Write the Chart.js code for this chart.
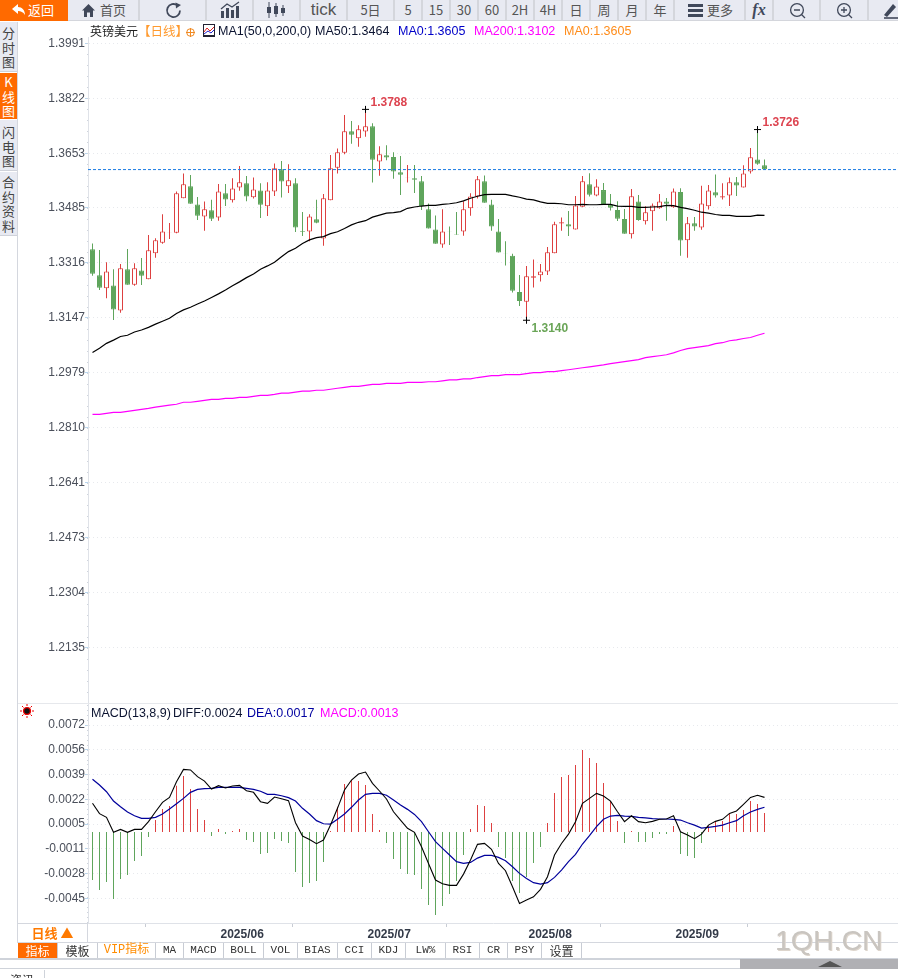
<!DOCTYPE html>
<html>
<head>
<meta charset="utf-8">
<title>英镑美元 日线</title>
<script src="https://cdn.jsdelivr.net/npm/chart.js@4"></script>
<style>
html, body { margin: 0; padding: 0; background: #fff; overflow: hidden; }
#page { position: relative; width: 898px; height: 978px; overflow: hidden; font-family: "Liberation Sans", "Noto Sans CJK SC", sans-serif; color: #333; }
#page div, #page span { position: absolute; white-space: nowrap; }
canvas { position: absolute; display: block; }
.tool { top: 0; height: 21px; line-height: 20px; background: #e8eaf2; border-right: 2px solid #d4d6dc; text-align: center; font-size: 13px; color: #555; font-family: "Noto Sans CJK SC", sans-serif; box-sizing: border-box; border-bottom: 1px solid #d4d6dc; }
.tool svg { position: absolute; }
.side { left: 0; width: 17px; background: #e8eaf2; text-align: center; font-size: 13px; line-height: 14.5px; color: #444; font-family: "Noto Sans CJK SC", sans-serif; border-bottom: 1px solid #cfd2da; box-sizing: border-box; }
.legend { font-size: 12.5px; line-height: 16px; top: 23px; }
.legend2 { font-size: 12.5px; line-height: 16px; top: 705px; }
.tab { top: 943px; height: 15px; line-height: 15px; font-size: 11px; font-family: "Liberation Mono", monospace; text-align: center; border-right: 1px solid #c8ccd4; box-sizing: content-box; color: #333; }
</style>
</head>
<body>
<div id="page">
  <canvas id="price-chart" width="880" height="666" style="left:18px;top:37px"></canvas>
  <canvas id="macd-chart" width="880" height="240" style="left:18px;top:703px"></canvas>

  <div class="tool" style="left:0;width:68px;background:#ff6a00;color:#fff;border:0">
    <svg style="left:11px;top:3px" width="16" height="14" viewBox="0 0 16 14"><path d="M7 1 L1 6 L7 11 V8 C10 8 12 9 14 12 C14 7 11 4 7 4 Z" fill="#fff"/></svg>
    <span style="left:28px;top:0">返回</span>
  </div>
  <div class="tool" style="left:68px;width:72px">
    <svg style="left:14px;top:4px" width="13" height="13" viewBox="0 0 13 13"><path d="M6.5 0 L13 6.5 H11 V13 H8 V8.5 H5 V13 H2 V6.5 H0 Z" fill="#40485a"/></svg>
    <span style="left:32px;top:0">首页</span>
  </div>
  <div class="tool" style="left:140px;width:67px">
    <svg style="left:25px;top:2px" width="18" height="17" viewBox="0 0 18 17"><path d="M15 8.5 A6.5 6.5 0 1 1 12.5 3.4" fill="none" stroke="#40485a" stroke-width="1.8"/><path d="M10.5 0.5 L16 3 L11 6.5 Z" fill="#40485a"/></svg>
  </div>
  <div class="tool" style="left:207px;width:47px">
    <svg style="left:13px;top:1px" width="20" height="18" viewBox="0 0 20 18"><path d="M1 17 V10 H4 V17 Z M6 17 V7 H9 V17 Z M11 17 V9 H14 V17 Z M16 17 V5 H19 V17 Z" fill="#40485a"/><path d="M1 8 L7 3 L12 6 L19 1" fill="none" stroke="#40485a" stroke-width="1.3"/></svg>
  </div>
  <div class="tool" style="left:254px;width:47px">
    <svg style="left:12px;top:2px" width="22" height="16" viewBox="0 0 22 16"><path d="M3 0 V16 M10 1 V15 M17 3 V14" stroke="#40485a" stroke-width="1"/><path d="M1 5 H5 V11 H1 Z M8 4 H12 V12 H8 Z M15 6 H19 V11 H15 Z" fill="#40485a"/></svg>
  </div>
  <div class="tool" style="left:301px;width:47px;font-size:17px;font-family:'Liberation Sans'">tick</div>
  <div class="tool" style="left:348px;width:47px">5日</div>
  <div class="tool" style="left:395px;width:28px">5</div>
  <div class="tool" style="left:423px;width:28px">15</div>
  <div class="tool" style="left:451px;width:28px">30</div>
  <div class="tool" style="left:479px;width:28px">60</div>
  <div class="tool" style="left:507px;width:28px">2H</div>
  <div class="tool" style="left:535px;width:28px">4H</div>
  <div class="tool" style="left:563px;width:28px">日</div>
  <div class="tool" style="left:591px;width:28px">周</div>
  <div class="tool" style="left:619px;width:28px">月</div>
  <div class="tool" style="left:647px;width:28px">年</div>
  <div class="tool" style="left:675px;width:71px">
    <svg style="left:13px;top:4px" width="15" height="13" viewBox="0 0 15 13"><path d="M0 0 H15 V3 H0 Z M0 5 H15 V8 H0 Z M0 10 H15 V13 H0 Z" fill="#40485a"/></svg>
    <span style="left:32px;top:0">更多</span>
  </div>
  <div class="tool" style="left:746px;width:28px;font:italic bold 16px 'Liberation Serif';color:#40485a;line-height:20px">fx</div>
  <div class="tool" style="left:774px;width:47px">
    <svg style="left:15px;top:2px" width="17" height="17" viewBox="0 0 17 17"><circle cx="8" cy="8" r="6.4" fill="none" stroke="#40485a" stroke-width="1.3"/><path d="M5 8 H11 M12.5 12.5 L16 16" stroke="#40485a" stroke-width="1.3"/></svg>
  </div>
  <div class="tool" style="left:821px;width:48px">
    <svg style="left:15px;top:2px" width="17" height="17" viewBox="0 0 17 17"><circle cx="8" cy="8" r="6.4" fill="none" stroke="#40485a" stroke-width="1.3"/><path d="M5 8 H11 M8 5 V11 M12.5 12.5 L16 16" stroke="#40485a" stroke-width="1.3"/></svg>
  </div>
  <div class="tool" style="left:869px;width:29px;border-right:0">
    <svg style="left:15px;top:2px" width="14" height="17" viewBox="0 0 14 17"><path d="M0 13 L9 2 L12 5 L3 15 Z" fill="#40485a"/><path d="M0 16 H14" stroke="#40485a" stroke-width="1.6"/></svg>
  </div>

  <div class="side" style="top:22px;height:50px;padding-top:4px">分<br>时<br>图</div>
  <div class="side" style="top:73px;height:46px;padding-top:2px;background:#ff6a00;color:#fff;border:0">K<br>线<br>图</div>
  <div class="side" style="top:120px;height:51px;padding-top:5px">闪<br>电<br>图</div>
  <div class="side" style="top:172px;height:64px;padding-top:3px">合<br>约<br>资<br>料</div>
  <div style="left:17px;top:22px;width:1px;height:921px;background:#d4d7de"></div>

  <span class="legend" style="left:90px;font-size:12px;font-family:'Noto Sans CJK SC';color:#222">英镑美元</span>
  <span class="legend" style="left:138px;font-family:'Noto Sans CJK SC';color:#ff9a2e">【日线】</span>
  <svg style="position:absolute;left:186px;top:28px" width="9" height="9" viewBox="0 0 9 9"><circle cx="4.5" cy="4.5" r="3.8" fill="none" stroke="#f08a24"/><path d="M0 4.5 H9 M4.5 0 V9" stroke="#f08a24"/></svg>
  <svg style="position:absolute;left:203px;top:24px" width="12" height="13" viewBox="0 0 12 13"><rect x="0.5" y="0.5" width="11" height="11" fill="#fff" stroke="#223"/><path d="M1 8 L4 4 L7 7 L11 3" stroke="#d22" fill="none"/><path d="M1 10 L5 7 L8 9 L11 6" stroke="#22c" fill="none"/><path d="M0 12.5 H12" stroke="#223"/></svg>
  <span class="legend" style="left:218px;color:#0b1330">MA1(50,0,200,0)</span>
  <span class="legend" style="left:315px;color:#0b1330">MA50:1.3464</span>
  <span class="legend" style="left:398px;color:#0000c8">MA0:1.3605</span>
  <span class="legend" style="left:474px;color:#ff00ff">MA200:1.3102</span>
  <span class="legend" style="left:564px;color:#ff8c1a">MA0:1.3605</span>

  <div style="left:18px;top:703px;width:880px;height:1px;background:#e6e8ec"></div>
  <svg style="position:absolute;left:20px;top:704px" width="14" height="14" viewBox="0 0 14 14"><circle cx="7" cy="7" r="3.4" fill="#111" stroke="#e00" stroke-width="1.4"/><path d="M7 0 V2 M7 12 V14 M0 7 H2 M12 7 H14 M2 2 L3.5 3.5 M12 2 L10.5 3.5 M2 12 L3.5 10.5 M12 12 L10.5 10.5" stroke="#e00"/></svg>
  <span class="legend2" style="left:91px;color:#0b1330">MACD(13,8,9)</span>
  <span class="legend2" style="left:173px;color:#0b1330">DIFF:0.0024</span>
  <span class="legend2" style="left:247px;color:#0000a0">DEA:0.0017</span>
  <span class="legend2" style="left:320px;color:#ff00ff">MACD:0.0013</span>

  <div style="left:18px;top:923px;width:70px;height:19px;border-top:1px solid #d4d7de;border-right:1px solid #d4d7de;text-align:center;font:bold 13px 'Noto Sans CJK SC';color:#ff7a00;line-height:18px;box-sizing:border-box">日线 ▲</div>
  <div style="left:18px;top:942px;width:880px;height:1px;background:#d4d7de"></div>

  <div class="tab" style="left:18px;width:39px;background:#ff6a00;color:#fff;font-family:'Noto Sans CJK SC';font-size:12px">指标</div>
  <div class="tab" style="left:58px;width:39px;font-family:'Noto Sans CJK SC';font-size:12px">模板</div>
  <div class="tab" style="left:98px;width:57px;color:#ff8c00;font-family:'Liberation Mono','Noto Sans CJK SC';font-size:12px">VIP指标</div>
  <div class="tab" style="left:156px;width:27px">MA</div>
  <div class="tab" style="left:184px;width:39px">MACD</div>
  <div class="tab" style="left:224px;width:39px">BOLL</div>
  <div class="tab" style="left:264px;width:33px">VOL</div>
  <div class="tab" style="left:298px;width:39px">BIAS</div>
  <div class="tab" style="left:338px;width:33px">CCI</div>
  <div class="tab" style="left:372px;width:33px">KDJ</div>
  <div class="tab" style="left:406px;width:39px">LW%</div>
  <div class="tab" style="left:446px;width:33px">RSI</div>
  <div class="tab" style="left:480px;width:27px">CR</div>
  <div class="tab" style="left:508px;width:33px">PSY</div>
  <div class="tab" style="left:542px;width:39px;font-family:'Noto Sans CJK SC';font-size:12px">设置</div>
  <div style="left:0;top:958px;width:898px;height:2px;background:#cfd3da"></div>
  <div style="left:740px;top:959px;width:158px;height:10px;background:#b0b0b4"></div>
  <svg style="position:absolute;left:818px;top:961px" width="24" height="8" viewBox="0 0 24 8"><path d="M12 0 L24 6 H0 Z" fill="#555"/></svg>
  <div style="left:0;top:968px;width:740px;height:1px;background:#cfd3da"></div>
  <div style="left:0;top:970px;width:44px;height:12px;border-right:1px solid #cfd3da;text-align:center;font:12px 'Noto Sans CJK SC';line-height:20px;color:#333">资讯</div>

  <div style="left:775px;top:922px;font-size:28.5px;line-height:36px;color:#c9c5c0;text-shadow:1px 1px 0 #ddd5cc">1QH.CN</div>
</div>

<script>
const dates = [
  '2025/05/07','2025/05/08','2025/05/09','2025/05/12','2025/05/13','2025/05/14','2025/05/15','2025/05/16','2025/05/19','2025/05/20',
  '2025/05/21','2025/05/22','2025/05/23','2025/05/26','2025/05/27','2025/05/28','2025/05/29','2025/05/30','2025/06/02','2025/06/03',
  '2025/06/04','2025/06/05','2025/06/06','2025/06/09','2025/06/10','2025/06/11','2025/06/12','2025/06/13','2025/06/16','2025/06/17',
  '2025/06/18','2025/06/19','2025/06/20','2025/06/23','2025/06/24','2025/06/25','2025/06/26','2025/06/27','2025/06/30','2025/07/01',
  '2025/07/02','2025/07/03','2025/07/04','2025/07/07','2025/07/08','2025/07/09','2025/07/10','2025/07/11','2025/07/14','2025/07/15',
  '2025/07/16','2025/07/17','2025/07/18','2025/07/21','2025/07/22','2025/07/23','2025/07/24','2025/07/25','2025/07/28','2025/07/29',
  '2025/07/30','2025/07/31','2025/08/01','2025/08/04','2025/08/05','2025/08/06','2025/08/07','2025/08/08','2025/08/11','2025/08/12',
  '2025/08/13','2025/08/14','2025/08/15','2025/08/18','2025/08/19','2025/08/20','2025/08/21','2025/08/22','2025/08/25','2025/08/26',
  '2025/08/27','2025/08/28','2025/08/29','2025/09/01','2025/09/02','2025/09/03','2025/09/04','2025/09/05','2025/09/08','2025/09/09',
  '2025/09/10','2025/09/11','2025/09/12','2025/09/15','2025/09/16','2025/09/17','2025/09/18'
];

const opens = [
  1.3358,1.3278,1.3238,1.3247,1.3170,1.3297,1.3249,1.3293,1.3266,1.3346,
  1.3378,1.3409,1.3409,1.3515,1.3552,1.3496,1.3459,1.3478,1.3456,1.3530,
  1.3509,1.3548,1.3561,1.3518,1.3539,1.3490,1.3536,1.3604,1.3552,1.3561,
  1.3414,1.3413,1.3450,1.3391,1.3509,1.3609,1.3655,1.3721,1.3699,1.3720,
  1.3736,1.3628,1.3647,1.3642,1.3595,1.3578,1.3576,1.3567,1.3481,1.3419,
  1.3373,1.3413,1.3404,1.3413,1.3484,1.3520,1.3567,1.3496,1.3413,1.3346,
  1.3338,1.3227,1.3197,1.3271,1.3278,1.3290,1.3346,1.3437,1.3435,1.3419,
  1.3489,1.3558,1.3523,1.3540,1.3495,1.3479,1.3451,1.3404,1.3505,1.3444,
  1.3475,1.3484,1.3505,1.3487,1.3534,1.3386,1.3438,1.3425,1.3490,1.3533,
  1.3517,1.3523,1.3564,1.3548,1.3597,1.3634,1.3616
];
const closes = [
  1.3283,1.3240,1.3290,1.3173,1.3300,1.3249,1.3300,1.3277,1.3355,1.3386,
  1.3413,1.3410,1.3530,1.3558,1.3498,1.3461,1.3481,1.3452,1.3536,1.3511,
  1.3545,1.3564,1.3520,1.3542,1.3495,1.3539,1.3607,1.3566,1.3570,1.3425,
  1.3412,1.3459,1.3440,1.3515,1.3607,1.3656,1.3721,1.3710,1.3727,1.3736,
  1.3633,1.3650,1.3640,1.3597,1.3587,1.3579,1.3572,1.3491,1.3422,1.3375,
  1.3413,1.3412,1.3403,1.3481,1.3520,1.3573,1.3501,1.3428,1.3348,1.3345,
  1.3231,1.3199,1.3275,1.3275,1.3290,1.3349,1.3435,1.3441,1.3428,1.3493,
  1.3567,1.3526,1.3551,1.3497,1.3486,1.3452,1.3406,1.3521,1.3448,1.3472,
  1.3493,1.3505,1.3498,1.3536,1.3385,1.3438,1.3428,1.3499,1.3539,1.3523,
  1.3521,1.3564,1.3554,1.3591,1.3641,1.3621,1.3604
];
const highs = [
  1.3376,1.3356,1.3318,1.3297,1.3313,1.3359,1.3315,1.3331,1.3402,1.3392,
  1.3466,1.3439,1.3536,1.3591,1.3586,1.3519,1.3505,1.3510,1.3559,1.3559,
  1.3576,1.3614,1.3583,1.3579,1.3561,1.3564,1.3622,1.3629,1.3619,1.3576,
  1.3473,1.3466,1.3510,1.3528,1.3648,1.3668,1.3771,1.3752,1.3739,1.3788,
  1.3745,1.3675,1.3678,1.3656,1.3645,1.3617,1.3617,1.3583,1.3499,1.3462,
  1.3481,1.3428,1.3473,1.3506,1.3530,1.3583,1.3585,1.3510,1.3451,1.3383,
  1.3344,1.3279,1.3307,1.3327,1.3313,1.3365,1.3443,1.3456,1.3476,1.3522,
  1.3583,1.3592,1.3573,1.3562,1.3528,1.3506,1.3482,1.3543,1.3525,1.3490,
  1.3499,1.3528,1.3516,1.3545,1.3546,1.3457,1.3457,1.3553,1.3556,1.3588,
  1.3561,1.3579,1.3580,1.3616,1.3669,1.3726,1.3634
];
const lows = [
  1.3277,1.3233,1.3208,1.3141,1.3163,1.3249,1.3246,1.3248,1.3266,1.3332,
  1.3375,1.3390,1.3407,1.3515,1.3498,1.3448,1.3415,1.3445,1.3446,1.3491,
  1.3502,1.3538,1.3506,1.3514,1.3454,1.3460,1.3522,1.3517,1.3531,1.3411,
  1.3399,1.3383,1.3438,1.3369,1.3509,1.3591,1.3650,1.3682,1.3673,1.3704,
  1.3563,1.3584,1.3632,1.3575,1.3525,1.3563,1.3531,1.3479,1.3422,1.3375,
  1.3363,1.3371,1.3403,1.3400,1.3461,1.3514,1.3501,1.3415,1.3348,1.3308,
  1.3225,1.3184,1.3140,1.3241,1.3259,1.3279,1.3346,1.3415,1.3399,1.3419,
  1.3487,1.3520,1.3521,1.3497,1.3477,1.3445,1.3406,1.3391,1.3446,1.3434,
  1.3415,1.3483,1.3446,1.3486,1.3338,1.3332,1.3415,1.3418,1.3480,1.3517,
  1.3511,1.3491,1.3522,1.3548,1.3591,1.3618,1.3604
];

const ma50 = [
  1.3041,1.3054,1.3069,1.3079,1.3090,1.3094,1.3104,1.3110,1.3118,1.3128,
  1.3137,1.3146,1.3161,1.3172,1.3180,1.3190,1.3199,1.3210,1.3221,1.3233,
  1.3246,1.3258,1.3271,1.3282,1.3297,1.3307,1.3318,1.3335,1.3351,1.3361,
  1.3376,1.3387,1.3394,1.3397,1.3406,1.3412,1.3422,1.3433,1.3441,1.3446,
  1.3457,1.3463,1.3469,1.3471,1.3474,1.3484,1.3488,1.3491,1.3493,1.3493,
  1.3496,1.3498,1.3501,1.3507,1.3515,1.3521,1.3526,1.3527,1.3527,1.3527,
  1.3522,1.3518,1.3512,1.3510,1.3504,1.3499,1.3499,1.3498,1.3495,1.3495,
  1.3496,1.3495,1.3495,1.3496,1.3496,1.3491,1.3490,1.3490,1.3487,1.3487,
  1.3488,1.3489,1.3493,1.3492,1.3487,1.3483,1.3478,1.3472,1.3469,1.3465,
  1.3462,1.3462,1.3459,1.3459,1.3459,1.3463,1.3462
];
const ma200 = [
  1.2851,1.2851,1.2854,1.2857,1.2857,1.2860,1.2863,1.2866,1.2869,1.2873,
  1.2876,1.2879,1.2882,1.2888,1.2888,1.2891,1.2894,1.2897,1.2897,1.2900,
  1.2900,1.2903,1.2903,1.2906,1.2909,1.2909,1.2912,1.2916,1.2916,1.2919,
  1.2922,1.2922,1.2925,1.2925,1.2928,1.2931,1.2934,1.2937,1.2937,1.2940,
  1.2943,1.2943,1.2946,1.2946,1.2946,1.2949,1.2949,1.2949,1.2951,1.2951,
  1.2954,1.2957,1.2957,1.2960,1.2960,1.2964,1.2967,1.2970,1.2970,1.2973,
  1.2973,1.2973,1.2976,1.2979,1.2979,1.2982,1.2982,1.2985,1.2988,1.2991,
  1.2994,1.2997,1.3000,1.3003,1.3007,1.3010,1.3013,1.3016,1.3019,1.3025,
  1.3028,1.3031,1.3034,1.3040,1.3047,1.3053,1.3056,1.3059,1.3062,1.3068,
  1.3071,1.3077,1.3080,1.3084,1.3087,1.3094,1.3100
];
const lastLevel = 1.3603;

const macdDiff = [
  .00194,.00124,.00099,-.00002,.00018,-.00002,.00018,.00018,.00070,.00137,
  .00200,.00234,.00340,.00423,.00419,.00374,.00344,.00290,.00313,.00297,
  .00311,.00315,.00279,.00268,.00205,.00194,.00236,.00225,.00212,.00063,
  -.00027,-.00050,-.00079,-.00054,.00047,.00160,.00284,.00351,.00392,.00405,
  .00329,.00277,.00223,.00137,.00081,.00025,-.00002,-.00099,-.00212,-.00324,
  -.00349,-.00360,-.00360,-.00284,-.00189,-.00083,-.00077,-.00117,-.00212,-.00261,
  -.00369,-.00482,-.00459,-.00437,-.00387,-.00302,-.00155,-.00077,-.00014,.00070,
  .00194,.00227,.00261,.00243,.00209,.00137,.00070,.00110,.00070,.00063,
  .00072,.00086,.00088,.00110,.00002,-.00020,-.00045,-.00014,.00047,.00072,
  .00086,.00126,.00142,.00187,.00234,.00248,.00234
];
const macdDea = [
  .00356,.00317,.00272,.00209,.00171,.00135,.00110,.00092,.00092,.00099,
  .00122,.00155,.00191,.00227,.00268,.00288,.00293,.00295,.00302,.00302,
  .00302,.00302,.00295,.00288,.00275,.00254,.00254,.00245,.00232,.00209,
  .00160,.00122,.00077,.00056,.00054,.00086,.00122,.00167,.00216,.00254,
  .00261,.00261,.00248,.00216,.00182,.00153,.00119,.00070,.00002,-.00065,
  -.00110,-.00155,-.00200,-.00212,-.00205,-.00176,-.00158,-.00158,-.00171,-.00194,
  -.00234,-.00279,-.00313,-.00342,-.00351,-.00342,-.00306,-.00257,-.00200,-.00151,
  -.00081,-.00025,.00036,.00086,.00108,.00113,.00108,.00106,.00099,.00095,
  .00090,.00088,.00088,.00086,.00081,.00063,.00047,.00027,.00032,.00038,
  .00047,.00063,.00077,.00110,.00135,.00153,.00167
];
const macdHist = [
  -.00324,-.00392,-.00338,-.00452,-.00317,-.00290,-.00196,-.00162,-.00034,.00081,
  .00155,.00176,.00313,.00378,.00290,.00155,.00081,-.00027,.00020,-.00014,
  .00007,.00020,-.00054,-.00068,-.00149,-.00142,-.00047,-.00061,-.00074,-.00270,
  -.00371,-.00344,-.00331,-.00203,.00007,.00171,.00324,.00351,.00344,.00317,
  .00122,.00014,-.00074,-.00182,-.00250,-.00284,-.00290,-.00385,-.00493,-.00560,
  -.00500,-.00419,-.00331,-.00155,.00020,.00182,.00176,.00061,-.00101,-.00176,
  -.00331,-.00412,-.00304,-.00209,-.00101,.00061,.00263,.00371,.00385,.00452,
  .00554,.00500,.00466,.00331,.00209,.00074,-.00074,.00007,-.00068,-.00068,
  -.00041,-.00014,-.00014,.00041,-.00149,-.00162,-.00176,-.00074,.00041,.00068,
  .00074,.00122,.00122,.00149,.00209,.00189,.00128
];

const priceTicks = [1.3991,1.3822,1.3653,1.3485,1.3316,1.3147,1.2979,1.2810,1.2641,1.2473,1.2304,1.2135];
const macdTicks = [.00722,.00556,.00387,.00220,.00054,-.00114,-.00281,-.00449];

// candles marked with a cross and their price
const markedCandles = [39, 95, 62];
const markedTexts = ['1.3788', '1.3726', '1.3140'];

const RED = '#dd4040';
const GREEN = '#5fa55c';
const SLOT = 7;
const AREA_WIDTH = 810;
const FIRST_OFFSET = 4.5;  // first candle centre, from the left of the plot
const xMin = -FIRST_OFFSET / SLOT;
const xMax = xMin + AREA_WIDTH / SLOT;

const isUp = i => closes[i] >= opens[i];

// first trading day of each month, the first month in the data has no label
const monthStarts = [];
dates.forEach((d, i) => {
    if (i > 0 && d.slice(0, 7) !== dates[i - 1].slice(0, 7)) monthStarts.push(i);
});

// the plot has to fill the canvas, without room kept for half of the labels
function noPadding(axis) {
    axis.paddingTop = 0;
    axis.paddingBottom = 0;
    axis.paddingLeft = 0;
    axis.paddingRight = 0;
}

const minorTicks = {
    id: 'minorTicks',
    afterDraw(chart) {
        const y = chart.scales.y;
        const ticks = y.ticks.map(t => t.value);
        const step = (ticks[0] - ticks[1]) / 5;
        const ctx = chart.ctx;
        ctx.save();
        ctx.fillStyle = '#cfd4dc';
        for (let v = ticks[0] + step * 5; v > y.min; v -= step) {
            if (v > y.max) continue;
            ctx.fillRect(chart.chartArea.left - 1, Math.round(y.getPixelForValue(v)), 1, 1);
        }
        ctx.restore();
    }
};

const markLabels = {
    id: 'markLabels',
    afterDatasetsDraw(chart) {
        const ctx = chart.ctx;
        ctx.save();
        ctx.font = 'bold 12px "Liberation Sans"';
        ctx.textBaseline = 'middle';
        markedCandles.forEach((idx, k) => {
            const isLow = markedTexts[k] === lows[idx].toFixed(4);
            const price = isLow ? lows[idx] : highs[idx];
            const x = chart.scales.x.getPixelForValue(idx);
            const y = chart.scales.y.getPixelForValue(price);
            ctx.fillStyle = isLow ? '#6aa557' : '#dd4450';
            ctx.fillText(markedTexts[k], x + 5, isLow ? y + 8 : y - 6.5);
        });
        ctx.restore();
    }
};

function yScale(min, max, ticks, labelFn) {
    return {
        position: 'left',
        min: min,
        max: max,
        afterBuildTicks: axis => { axis.ticks = ticks.map(v => ({ value: v })); },
        afterFit: axis => { axis.width = 70; noPadding(axis); },
        ticks: {
            autoSkip: false,
            padding: 0,
            color: '#4a4f5a',
            font: { family: '"Liberation Sans"', size: 12 },
            callback: labelFn
        },
        grid: { color: '#e7e9ed', tickColor: '#b9d6ee', tickLength: 3, lineWidth: 1 },
        border: { color: '#dfe2e8', dash: [1, 3] }
    };
}

const candlePoints = values => dates.map((d, i) => ({ x: i, y: values[i] }));
const pointColors = dates.map((d, i) => isUp(i) ? RED : GREEN);

new Chart(document.getElementById('price-chart').getContext('2d'), {
    type: 'bar',
    data: {
        datasets: [
            {
                label: 'high',
                type: 'line',
                order: 0,
                data: markedCandles.map((i, k) => ({
                    x: i,
                    y: markedTexts[k] === lows[i].toFixed(4) ? lows[i] : highs[i]
                })),
                showLine: false,
                pointStyle: 'cross',
                pointRadius: 3.5,
                pointBorderColor: '#000',
                pointBorderWidth: 1
            },
            {
                label: 'MA50',
                type: 'line',
                order: 1,
                data: candlePoints(ma50),
                borderColor: '#000',
                borderWidth: 1.2,
                pointRadius: 0,
                tension: 0
            },
            {
                label: 'MA200',
                type: 'line',
                order: 2,
                data: candlePoints(ma200),
                borderColor: '#ff00ff',
                borderWidth: 1.2,
                pointRadius: 0,
                tension: 0
            },
            {
                label: 'MA0',
                type: 'line',
                order: 3,
                data: [{ x: xMin, y: lastLevel }, { x: xMax, y: lastLevel }],
                borderColor: '#1a7ae2',
                borderWidth: 1,
                borderDash: [3, 2],
                pointRadius: 0
            },
            {
                label: 'body',
                order: 4,
                grouped: false,
                data: dates.map((d, i) => ({ x: i, y: [opens[i], closes[i]] })),
                backgroundColor: dates.map((d, i) => isUp(i) ? '#fff' : GREEN),
                borderColor: pointColors,
                borderWidth: 1,
                borderSkipped: false,
                inflateAmount: 0,
                barThickness: 5
            },
            {
                label: 'wick',
                order: 5,
                grouped: false,
                data: dates.map((d, i) => ({ x: i, y: [lows[i], highs[i]] })),
                backgroundColor: pointColors,
                borderWidth: 0,
                inflateAmount: 0,
                barThickness: 1
            }
        ]
    },
    plugins: [minorTicks, markLabels],
    options: {
        responsive: false,
        animation: false,
        plugins: { legend: { display: false }, tooltip: { enabled: false } },
        layout: { padding: 0, autoPadding: false },
        scales: {
            x: { type: 'linear', min: xMin, max: xMax, display: false, offset: false, afterFit: noPadding },
            y: yScale(1.19639, 1.40104, priceTicks, v => v.toFixed(4))
        }
    }
});

new Chart(document.getElementById('macd-chart').getContext('2d'), {
    type: 'bar',
    data: {
        datasets: [
            {
                label: 'DIFF',
                type: 'line',
                order: 0,
                data: candlePoints(macdDiff),
                borderColor: '#000',
                borderWidth: 1.1,
                pointRadius: 0,
                tension: 0
            },
            {
                label: 'DEA',
                type: 'line',
                order: 1,
                data: candlePoints(macdDea),
                borderColor: '#00009c',
                borderWidth: 1.2,
                pointRadius: 0,
                tension: 0
            },
            {
                label: 'MACD',
                order: 2,
                data: candlePoints(macdHist),
                backgroundColor: macdHist.map(v => v >= 0 ? RED : GREEN),
                borderWidth: 0,
                inflateAmount: 0,
                barThickness: 1
            }
        ]
    },
    plugins: [minorTicks],
    options: {
        responsive: false,
        animation: false,
        plugins: { legend: { display: false }, tooltip: { enabled: false } },
        layout: { padding: 0, autoPadding: false },
        scales: {
            x: {
                type: 'linear',
                min: xMin,
                max: xMax,
                offset: false,
                afterBuildTicks: axis => { axis.ticks = monthStarts.map(i => ({ value: i })); },
                afterFit: axis => { axis.height = 20; noPadding(axis); },
                ticks: {
                    autoSkip: false,
                    maxRotation: 0,
                    align: 'start',
                    labelOffset: 2,
                    padding: 0,
                    color: '#333a48',
                    font: { family: '"Liberation Sans"', size: 12, weight: 'bold' },
                    callback: v => dates[v].slice(0, 7)
                },
                grid: { drawOnChartArea: false, tickColor: '#c8ccd4', tickLength: 4 },
                border: { color: '#dfe2e8' }
            },
            y: yScale(-.00614, .00871, macdTicks, v => v.toFixed(4))
        }
    }
});
</script>
</body>
</html>
